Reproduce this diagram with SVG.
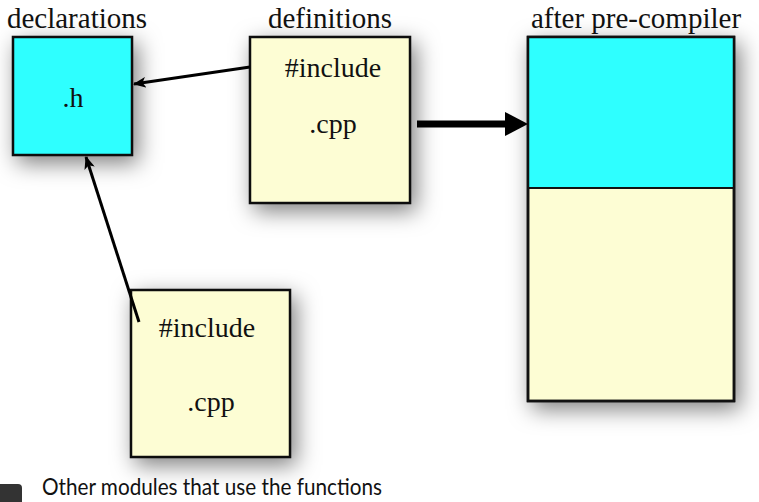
<svg xmlns="http://www.w3.org/2000/svg" width="759" height="502" viewBox="0 0 759 502">
<defs>
<filter id="sh" x="-40%" y="-40%" width="180%" height="180%">
<feDropShadow dx="5" dy="7" stdDeviation="11" flood-color="#000" flood-opacity="0.5"/>
</filter>
<marker id="ah" viewBox="0 0 12 10" refX="11" refY="5" markerWidth="4.3" markerHeight="3.6" orient="auto" markerUnits="strokeWidth">
<path d="M0,0 L12,5 L0,10 L3,5 Z" fill="#000"/>
</marker>
<style>
.box{stroke:#111;stroke-width:2.5;filter:url(#sh)}
.cy{fill:#2effff}
.yl{fill:#fdfdd4}
.t{font-family:"Liberation Serif","Times New Roman",serif;fill:#111;text-anchor:middle}
.lbl{font-size:29px}
.in{font-size:28px}
.cn{stroke:#000;stroke-width:3;fill:none}
</style>
</defs>
<rect width="759" height="502" fill="#fff"/>
<text class="t lbl" x="77" y="28">declarations</text>
<text class="t lbl" x="330" y="28">definitions</text>
<text class="t lbl" x="636" y="28">after pre-compiler</text>
<g id="node-h">
<rect class="box cy" x="13" y="37" width="119" height="118"/>
<text class="t in" x="73" y="107">.h</text>
</g>
<g id="node-def">
<rect class="box yl" x="250" y="37" width="160" height="166"/>
<text class="t in" x="333" y="77">#include</text>
<text class="t in" x="333" y="133">.cpp</text>
</g>
<g id="node-after">
<rect class="box yl" x="528" y="37" width="206" height="364"/>
<rect x="529" y="38" width="204" height="150" class="cy"/>
<line x1="528" y1="188" x2="734" y2="188" stroke="#111" stroke-width="2"/>
<rect x="528" y="37" width="206" height="364" fill="none" stroke="#111" stroke-width="2.5"/>
</g>
<g id="node-other">
<rect class="box yl" x="131" y="290" width="159" height="167"/>
<text class="t in" x="207" y="337">#include</text>
<text class="t in" x="211" y="411">.cpp</text>
</g>
<g id="connectors">
<line class="cn" x1="250" y1="67" x2="134" y2="84" marker-end="url(#ah)"/>
<line class="cn" x1="139" y1="322" x2="86" y2="157" marker-end="url(#ah)"/>
<line x1="417" y1="124" x2="508" y2="124" stroke="#000" stroke-width="7"/>
<path d="M505,112 L528,124 L505,136 Z" fill="#000"/>
</g>
<rect x="-6" y="484" width="28" height="26" rx="4" fill="#333"/>
<text x="42" y="495" font-family="Lato,'Open Sans',sans-serif" font-size="24" fill="#111" textLength="340" lengthAdjust="spacingAndGlyphs">Other modules that use the functions</text>
</svg>
